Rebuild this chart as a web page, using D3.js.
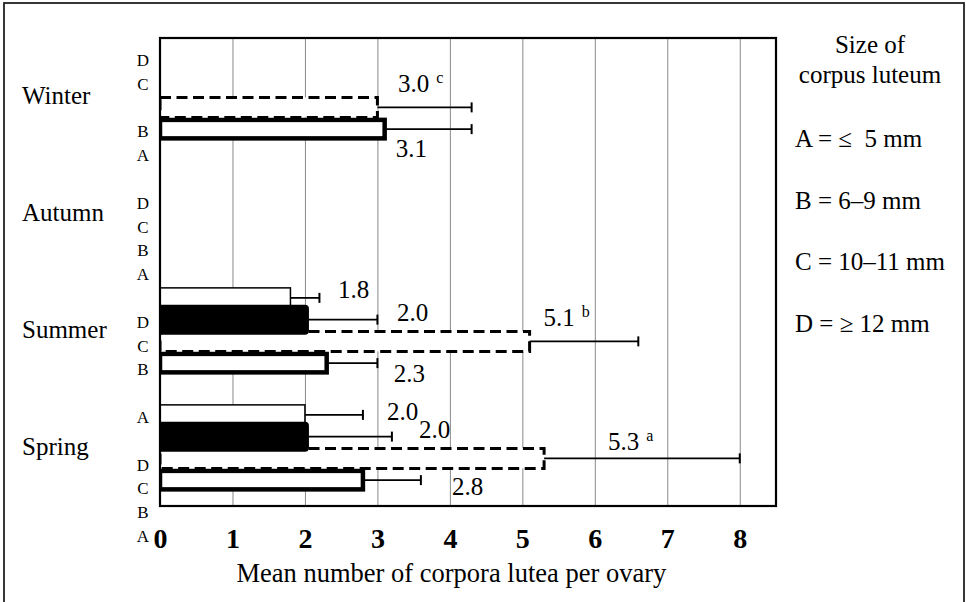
<!DOCTYPE html>
<html>
<head>
    <meta charset="utf-8">
    <style>
        body {
            margin: 0;
            background: #fff;
        }
        svg {
            display: block;
            font-family: "Liberation Serif", "Times New Roman", serif;
        }
        .grid line {
            stroke: #8a8a8a;
            stroke-width: 1px;
        }
        .grid .domain {
            display: none;
        }
        .x .domain {
            display: none;
        }
        .x .tick text {
            font-family: "Liberation Serif", "Times New Roman", serif;
            font-size: 28px;
            font-weight: bold;
            fill: #000;
        }
        .value-label {
            font-size: 25px;
        }
        .legend text {
            font-size: 25px;
            white-space: pre;
        }
    </style>
</head>
<body>
    <svg width="966" height="602"></svg>

<script src="https://d3js.org/d3.v7.min.js"></script>
<script>

    // seasons top to bottom, bar slots inside a season top to bottom
    const seasons = ["Winter", "Autumn", "Summer", "Spring"];
    const sizeClasses = ["D", "C", "B", "A"];

    // mean corpora lutea per ovary, one value per season (null = none)
    const meanD = [null, null, 1.8, 2.0];
    const meanC = [null, null, 2.0, 2.0];
    const meanB = [3.0, null, 5.1, 5.3];
    const meanA = [3.1, null, 2.3, 2.8];

    // error bar length
    const errD = [null, null, 0.4, 0.8];
    const errC = [null, null, 1.0, 1.2];
    const errB = [1.3, null, 1.5, 2.7];
    const errA = [1.2, null, 0.7, 0.8];

    // significance superscripts
    const supB = ["c", null, "b", "a"];

    const xTicks = [0, 1, 2, 3, 4, 5, 6, 7, 8];

    // size class letters beside the axis, with their row
    const letterText = ["D", "C", "B", "A", "D", "C", "B", "A", "D", "C", "B", "A", "D", "C", "B", "A"];
    const letterRow = [0, 1, 3, 4, 6, 7, 8, 9, 11, 12, 13, 15, 17, 18, 19, 20];

    const legendTitle = ["Size of", "corpus luteum"];
    const legendItems = ["A = \u2264  5 mm", "B = 6\u20139 mm", "C = 10\u201311 mm", "D = \u2265 12 mm"];

    // label nudges in px from (bar end, slot centre), hand placed like the original
    const labelNudge = {
        "Winter-B": [20.5, -15.5], "Winter-A": [11, 27.5],
        "Summer-D": [47.5, 0], "Summer-C": [92, 1.5], "Summer-B": [14, -15.5], "Summer-A": [67, 18.5],
        "Spring-D": [82, 5], "Spring-C": [114, 1.5], "Spring-B": [64, -8.5], "Spring-A": [89, 14.5]
    };

    const means = { D: meanD, C: meanC, B: meanB, A: meanA };
    const errs = { D: errD, C: errC, B: errB, A: errA };
    const sups = { B: supB };

    let margin = { top: 38, right: 190, bottom: 96, left: 160 };
    let width = 966;
    let height = 602;

    let svg = d3.select("svg");

    // outer frame (bottom edge runs off the picture)
    svg.append("rect")
        .attr("x", 4)
        .attr("y", 3)
        .attr("width", 960)
        .attr("height", 640)
        .style("fill", "none")
        .style("stroke", "#222")
        .style("stroke-width", 1.8)

    let x = d3.scaleLinear()
        .domain([0, 8.5])
        .range([margin.left, width - margin.right])

    let y0 = d3.scaleBand()
        .domain(seasons)
        .range([margin.top, height - margin.bottom])

    let y1 = d3.scaleBand()
        .domain(sizeClasses)
        .range([15, 102])

    let rows = d3.scaleLinear()
        .domain([0, 20])
        .range([60, 536])

    let plotBottom = height - margin.bottom;
    let plotH = plotBottom - margin.top;

    svg.append("g")
        .attr("class", "grid")
        .attr("transform", `translate(0,${plotBottom})`)
        .call(d3.axisBottom(x).tickValues(xTicks.slice(1)).tickSize(-plotH).tickFormat(""))

    svg.append("g")
        .attr("class", "x axis")
        .attr("transform", `translate(0,${plotBottom})`)
        .call(d3.axisBottom(x).tickValues(xTicks).tickSize(0).tickPadding(22).tickFormat(d3.format("d")))
        .attr("font-family", null)
        .attr("font-size", null)

    svg.append("text")
        .attr("x", x(4) + 1.5)
        .attr("y", 582)
        .attr("text-anchor", "middle")
        .style("font-size", "26.5px")
        .text("Mean number of corpora lutea per ovary")

    // bar table
    let data = [];
    seasons.forEach((s, i) => {
        sizeClasses.forEach(k => {
            if (means[k][i] != null) {
                data.push({
                    season: s, key: k, mean: means[k][i], err: errs[k][i],
                    sup: sups[k] ? sups[k][i] : null
                })
            }
        })
    })

    const look = {
        D: { h: 20, sw: 1.5, fill: "#fff", dash: null },
        C: { h: 22, sw: 8, fill: "#000", dash: null },
        B: { h: 20, sw: 3, fill: "#fff", dash: "11,5.5" },
        A: { h: 18.5, sw: 4.5, fill: "#fff", dash: null }
    };
    const drawOrder = ["A", "B", "D", "C"];

    let cy = d => y0(d.season) + y1(d.key) + y1.bandwidth() / 2;

    svg.append("clipPath")
        .attr("id", "plot-clip")
        .append("rect")
        .attr("x", margin.left)
        .attr("y", 0)
        .attr("width", width - margin.right - margin.left + 10)
        .attr("height", height)

    let sorted = data.slice().sort((a, b) => drawOrder.indexOf(a.key) - drawOrder.indexOf(b.key));

    svg.append("g")
        .attr("clip-path", "url(#plot-clip)")
        .selectAll("rect")
        .data(sorted)
        .join("rect")
        .attr("x", x(0))
        .attr("y", d => cy(d) - look[d.key].h / 2)
        .attr("width", d => x(d.mean) - x(0))
        .attr("height", d => look[d.key].h)
        .style("fill", d => look[d.key].fill)
        .style("stroke", "#000")
        .style("stroke-width", d => look[d.key].sw)
        .style("stroke-dasharray", d => look[d.key].dash)
        .style("stroke-linejoin", d => d.key == "C" ? "round" : "miter")

    // error bars
    let eb = svg.append("g")
        .selectAll("g")
        .data(data)
        .join("g")

    eb.append("line")
        .attr("x1", d => x(d.mean))
        .attr("x2", d => x(d.mean + d.err))
        .attr("y1", cy)
        .attr("y2", cy)
        .style("stroke", "#000")
        .style("stroke-width", 1.8)

    eb.append("line")
        .attr("x1", d => x(d.mean + d.err))
        .attr("x2", d => x(d.mean + d.err))
        .attr("y1", d => cy(d) - 5)
        .attr("y2", d => cy(d) + 5)
        .style("stroke", "#000")
        .style("stroke-width", 2)

    // frame of the plot area
    svg.append("rect")
        .attr("x", margin.left)
        .attr("y", margin.top)
        .attr("width", width - margin.right - margin.left)
        .attr("height", plotH)
        .style("fill", "none")
        .style("stroke", "#000")
        .style("stroke-width", 2.2)

    // value labels
    let labels = svg.append("g")
        .selectAll("text")
        .data(data)
        .join("text")
        .attr("class", "value-label")
        .attr("x", d => x(d.mean) + labelNudge[d.season + "-" + d.key][0])
        .attr("y", d => cy(d) + labelNudge[d.season + "-" + d.key][1])

    labels.append("tspan")
        .text(d => d3.format(".1f")(d.mean))

    labels.filter(d => d.sup)
        .append("tspan")
        .attr("dx", 7)
        .attr("dy", -9)
        .style("font-size", "16px")
        .text(d => d.sup)

    // season names
    svg.append("g")
        .selectAll("text")
        .data(seasons)
        .join("text")
        .attr("x", 22)
        .attr("y", d => y0(d) + y0.bandwidth() / 2 + 7)
        .style("font-size", "25px")
        .text(d => d)

    // size letters
    svg.append("g")
        .selectAll("text")
        .data(letterText)
        .join("text")
        .attr("x", 143)
        .attr("y", (d, i) => rows(letterRow[i]))
        .attr("dy", "0.35em")
        .attr("text-anchor", "middle")
        .style("font-size", "17px")
        .text(d => d)

    // legend
    let legend = svg.append("g").attr("class", "legend");

    legend.selectAll(".title")
        .data(legendTitle)
        .join("text")
        .attr("class", "title")
        .attr("x", 870)
        .attr("y", (d, i) => 53 + i * 30)
        .attr("text-anchor", "middle")
        .text(d => d)

    legend.selectAll(".item")
        .data(legendItems)
        .join("text")
        .attr("class", "item")
        .attr("x", 795)
        .attr("y", (d, i) => 147 + i * 61.7)
        .text(d => d)

</script>
</body>
</html>
